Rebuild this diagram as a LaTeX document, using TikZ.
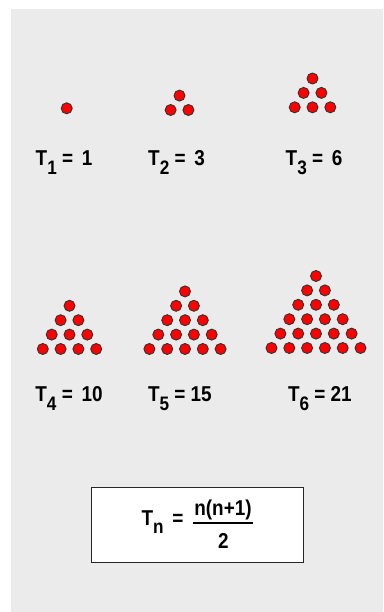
\documentclass[tikz,border=0pt]{standalone}
\usepackage{fontspec}
\setmainfont{Liberation Sans}[FakeStretch=0.88]
\usetikzlibrary{positioning}
\definecolor{PanelGray}{HTML}{EBEBEB}
\definecolor{DotRed}{HTML}{FF0000}
\newcommand{\Tsub}[1]{\raisebox{-8.5pt}{\fontsize{19.5}{21}\selectfont #1}}

\begin{document}
\begin{tikzpicture}[x=1pt,y=-1pt,
    dot/.style={circle,fill=DotRed,draw=black!80,line width=0.9pt,inner sep=0pt,minimum size=11pt},
    lbl/.style={font=\fontsize{21.5}{25}\selectfont\bfseries,inner sep=0pt,anchor=base west},
    formulabox/.style={draw=black!85,fill=white,line width=1pt,minimum width=212pt,minimum height=75pt,inner sep=0pt}]
				% 背景
				\useasboundingbox (0,0) rectangle (383,612);
				\fill[white] (0,0) rectangle (383,612);
				\fill[PanelGray] (11,9) rectangle (383,612);
				% 三角形点阵：n/中心x/底行y
				\foreach \n/\cx/\by in {1/66.7/108.3, 2/179.5/110, 3/312.5/107.3, 4/69.5/349, 5/185/349, 6/316/348}{
					\foreach \r in {1,...,\n}{
						\foreach \c in {1,...,\r}{
							\node[dot] (d\n-\r-\c) at ({\cx+(\c-(\r+1)/2)*17.8},{\by-(\n-\r)*14.4}) {};
						}
					}
				}
				% 标注
				\node[lbl] (t1) at (35.5,166) {T\Tsub{1} = \,1};
				\node[lbl] (t2) at (148,166) {T\Tsub{2} = \,3};
				\node[lbl] (t3) at (285.5,166) {T\Tsub{3} = \,6};
				\node[lbl] (t4) at (35.2,401.7) {T\Tsub{4} = \,10};
				\node[lbl] (t5) at (147.8,401.7) {T\Tsub{5} = 15};
				\node[lbl] (t6) at (287.8,401.7) {T\Tsub{6} = 21};
				% 公式
				\node[formulabox] (formula) at (197,524.5) {};
				\node[lbl] (tn) at (141.3,525) {T\Tsub{n} \,=};
				\node[lbl,anchor=base] (num) at (223,515) {n(n+1)};
				\node[lbl,anchor=base] (den) at (223.5,548.3) {2};
				\coordinate (barl) at (192.7,522.7);
				\coordinate (barr) at (253.3,522.7);
				\draw[line width=2.3pt] (barl) -- (barr);
\end{tikzpicture}
\end{document}
